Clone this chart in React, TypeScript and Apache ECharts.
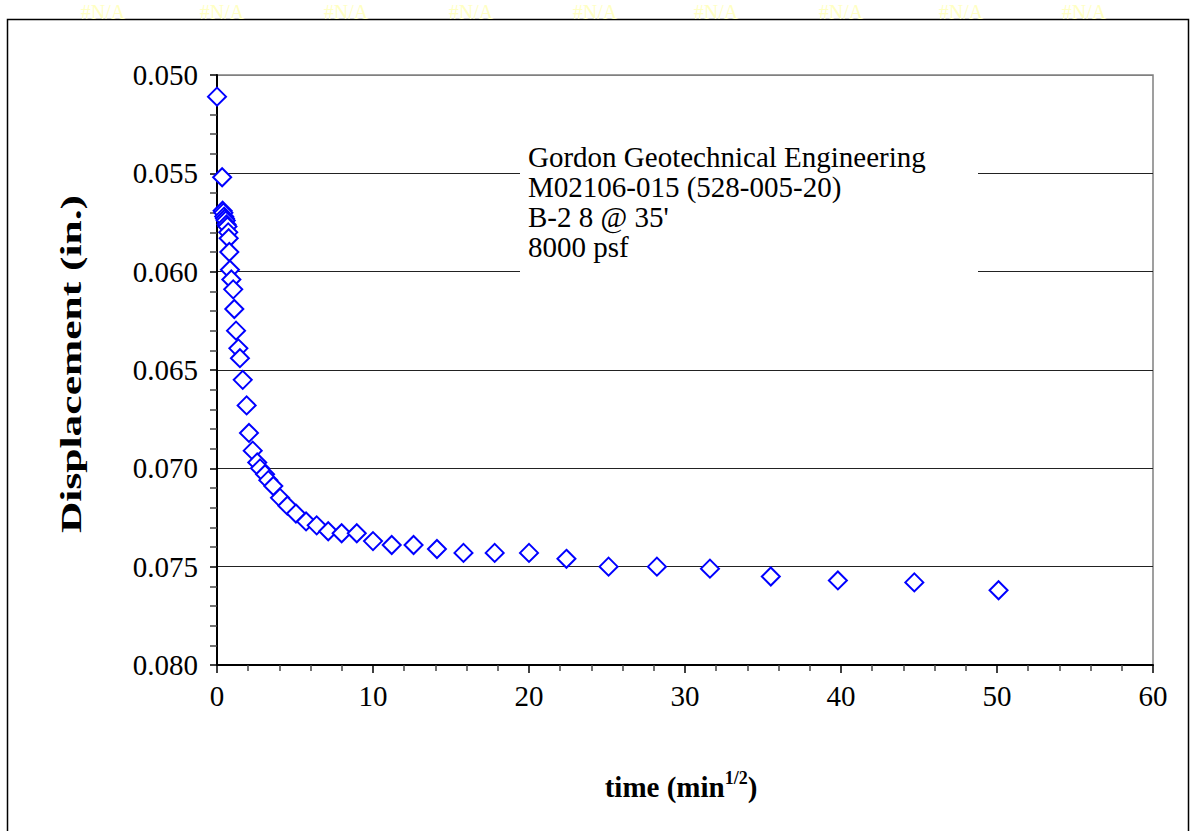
import React, { useEffect, useRef } from "react";
import * as echarts from "echarts";

const timeSqrt = [0, 0.33, 0.36, 0.41, 0.46, 0.51, 0.56, 0.61, 0.67, 0.72, 0.75, 0.79, 0.83, 0.92, 1.04, 1.11, 1.22, 1.37, 1.47, 1.65, 1.9, 2.05, 2.29, 2.58, 2.76, 3.08, 3.29, 3.61, 4.04, 4.51, 5.06, 5.71, 6.39, 7.13, 7.99, 8.96, 10.0, 11.2, 12.6, 14.1, 15.8, 17.8, 20.0, 22.4, 25.1, 28.2, 31.6, 35.5, 39.8, 44.7, 50.1];
const displacement = [0.0511, 0.0552, 0.0569, 0.057, 0.0572, 0.0573, 0.0574, 0.0576, 0.0577, 0.058, 0.0583, 0.059, 0.0599, 0.0604, 0.0609, 0.0619, 0.063, 0.0639, 0.0644, 0.0655, 0.0668, 0.0682, 0.0691, 0.0697, 0.07, 0.0703, 0.0706, 0.0709, 0.0715, 0.0719, 0.0723, 0.0727, 0.0729, 0.0732, 0.0733, 0.0733, 0.0737, 0.0739, 0.0739, 0.0741, 0.0743, 0.0743, 0.0743, 0.0746, 0.075, 0.075, 0.0751, 0.0755, 0.0757, 0.0758, 0.0762];
const naLabelX = [103, 222, 346, 471, 595, 716, 841, 961, 1084];
const noteLines = ["Gordon Geotechnical Engineering", "M02106-015 (528-005-20)", "B-2 8 @ 35'", "8000 psf"];

const FONT = "Liberation Serif";

export default function App() {
  const ref = useRef<HTMLDivElement>(null);
  useEffect(() => {
    if (!ref.current) return;
    const chart = echarts.init(ref.current, null, { renderer: "svg" });
    const data = timeSqrt.map((x, i) => [x, displacement[i]]);
    const graphics: any[] = [
      {
        type: "rect",
        shape: { x: 7.5, y: 19.5, width: 1181, height: 900 },
        style: { fill: "none", stroke: "#000", lineWidth: 1.5 },
        z: 1,
      },
      {
        type: "rect",
        shape: { x: 520, y: 138, width: 458, height: 138 },
        style: { fill: "#fff" },
        z: 1,
      },
      {
        type: "text",
        x: 528,
        y: 142,
        z: 3,
        style: {
          text: noteLines.join("\n"),
          fontSize: 29,
          fontFamily: FONT,
          lineHeight: 30,
          fill: "#000",
          verticalAlign: "top",
          align: "left",
        },
      },
      {
        type: "text",
        x: 71,
        y: 364,
        rotation: Math.PI / 2,
        scaleX: 1.5,
        z: 3,
        style: {
          text: "Displacement (in.)",
          fontSize: 29,
          fontWeight: "bold",
          fontFamily: FONT,
          fill: "#000",
          align: "center",
          verticalAlign: "middle",
        },
      },
      {
        type: "text",
        x: 681,
        y: 785,
        z: 3,
        style: {
          text: "{a|time (min}{s|1/2}{a|)}",
          align: "center",
          verticalAlign: "middle",
          rich: {
            a: { fontSize: 29, fontWeight: "bold", fontFamily: FONT, fill: "#000", lineHeight: 32, verticalAlign: "bottom" },
            s: { fontSize: 18, fontWeight: "bold", fontFamily: FONT, fill: "#000", lineHeight: 32, verticalAlign: "top", padding: [0, 0, 14, 0] },
          },
        },
      },
      ...naLabelX.map((x) => ({
        type: "text",
        x,
        y: 12,
        z: 3,
        style: {
          text: "#N/A",
          fontSize: 20,
          fontFamily: FONT,
          fill: "#FFFFC4",
          align: "center",
          verticalAlign: "middle",
        },
      })),
    ];
    chart.setOption({
      animation: false,
      backgroundColor: "#fff",
      textStyle: { fontFamily: FONT },
      grid: {
        left: 217,
        top: 75,
        right: 41,
        bottom: 166,
        show: true,
        borderColor: "#808080",
        borderWidth: 1.5,
        backgroundColor: "transparent",
      },
      xAxis: {
        type: "value",
        min: 0,
        max: 60,
        interval: 10,
        axisLine: { show: true, onZero: false, lineStyle: { color: "#000", width: 2 } },
        axisTick: { show: true, inside: false, length: 8, lineStyle: { color: "#000", width: 1.5 } },
        minorTick: { show: true, splitNumber: 5, length: 6, lineStyle: { color: "#444", width: 1.5 } },
        splitLine: { show: false },
        axisLabel: { color: "#000", fontSize: 29, fontFamily: FONT, margin: 16 },
      },
      yAxis: {
        type: "value",
        min: 0.05,
        max: 0.08,
        interval: 0.005,
        inverse: true,
        axisLine: { show: true, onZero: false, lineStyle: { color: "#000", width: 2 } },
        axisTick: { show: true, inside: false, length: 7, lineStyle: { color: "#000", width: 1.5 } },
        minorTick: { show: true, splitNumber: 5, length: 7, lineStyle: { color: "#444", width: 1.5 } },
        splitLine: {
          show: true,
          lineStyle: { color: ["#808080", "#222", "#222", "#222", "#222", "#222", "#000"], width: 1 },
        },
        axisLabel: {
          color: "#000",
          fontSize: 29,
          fontFamily: FONT,
          margin: 19,
          formatter: (v: number) => v.toFixed(3),
        },
      },
      graphic: graphics,
      series: [
        {
          type: "scatter",
          z: 5,
          data,
          symbol: "diamond",
          symbolSize: 18,
          itemStyle: { color: "#fff", opacity: 1, borderColor: "#0000FF", borderWidth: 2 },
          emphasis: { disabled: true },
        },
      ],
    });
    return () => chart.dispose();
  }, []);
  return (
    <div
      ref={ref}
      style={{ position: "fixed", left: 0, top: 0, width: 1194, height: 831, background: "#fff" }}
    />
  );
}
